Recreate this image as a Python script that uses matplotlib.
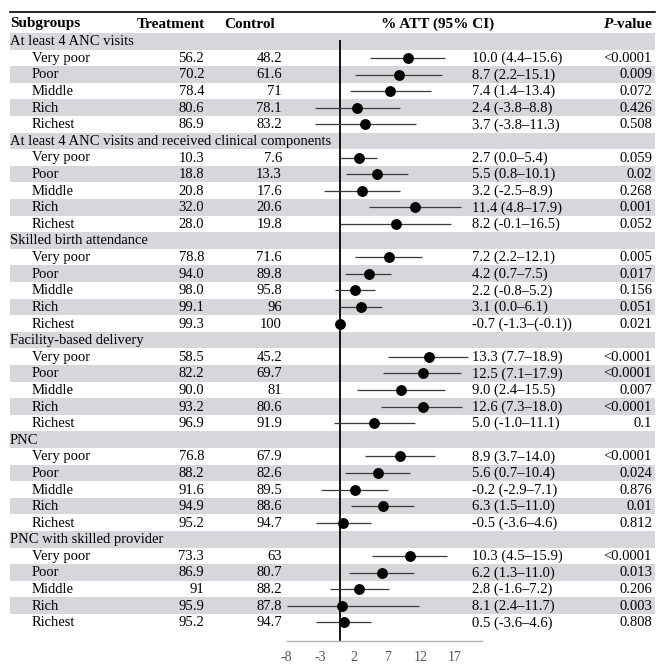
import matplotlib
matplotlib.use("Agg")
import matplotlib.pyplot as plt

plt.rcParams['font.family'] = ['Liberation Serif', 'DejaVu Serif']
plt.rcParams['axes.unicode_minus'] = False

# --- data -------------------------------------------------------------
groups = ["At least 4 ANC visits",
          "At least 4 ANC visits and received clinical components",
          "Skilled birth attendance",
          "Facility-based delivery",
          "PNC",
          "PNC with skilled provider"]
quintiles = ["Very poor", "Poor", "Middle", "Rich", "Richest"]

treatment = [["56.2", "70.2", "78.4", "80.6", "86.9"],
             ["10.3", "18.8", "20.8", "32.0", "28.0"],
             ["78.8", "94.0", "98.0", "99.1", "99.3"],
             ["58.5", "82.2", "90.0", "93.2", "96.9"],
             ["76.8", "88.2", "91.6", "94.9", "95.2"],
             ["73.3", "86.9", "91", "95.9", "95.2"]]
control = [["48.2", "61.6", "71", "78.1", "83.2"],
           ["7.6", "13.3", "17.6", "20.6", "19.8"],
           ["71.6", "89.8", "95.8", "96", "100"],
           ["45.2", "69.7", "81", "80.6", "91.9"],
           ["67.9", "82.6", "89.5", "88.6", "94.7"],
           ["63", "80.7", "88.2", "87.8", "94.7"]]
att_text = [["10.0 (4.4\u201315.6)", "8.7 (2.2\u201315.1)", "7.4 (1.4\u201313.4)", "2.4 (-3.8\u20138.8)", "3.7 (-3.8\u201311.3)"],
            ["2.7 (0.0\u20135.4)", "5.5 (0.8\u201310.1)", "3.2 (-2.5\u20138.9)", "11.4 (4.8\u201317.9)", "8.2 (-0.1\u201316.5)"],
            ["7.2 (2.2\u201312.1)", "4.2 (0.7\u20137.5)", "2.2 (-0.8\u20135.2)", "3.1 (0.0\u20136.1)", "-0.7 (-1.3\u2013(-0.1))"],
            ["13.3 (7.7\u201318.9)", "12.5 (7.1\u201317.9)", "9.0 (2.4\u201315.5)", "12.6 (7.3\u201318.0)", "5.0 (-1.0\u201311.1)"],
            ["8.9 (3.7\u201314.0)", "5.6 (0.7\u201310.4)", "-0.2 (-2.9\u20137.1)", "6.3 (1.5\u201311.0)", "-0.5 (-3.6\u20134.6)"],
            ["10.3 (4.5\u201315.9)", "6.2 (1.3\u201311.0)", "2.8 (-1.6\u20137.2)", "8.1 (2.4\u201311.7)", "0.5 (-3.6\u20134.6)"]]
pvals = [["<0.0001", "0.009", "0.072", "0.426", "0.508"],
         ["0.059", "0.02", "0.268", "0.001", "0.052"],
         ["0.005", "0.017", "0.156", "0.051", "0.021"],
         ["<0.0001", "<0.0001", "0.007", "<0.0001", "0.1"],
         ["<0.0001", "0.024", "0.876", "0.01", "0.812"],
         ["<0.0001", "0.013", "0.206", "0.003", "0.808"]]

# plotted estimates and CI as drawn in the forest panel
est = [[10.0, 8.7, 7.4, 2.4, 3.7],
       [2.7, 5.5, 3.2, 11.1, 8.2],
       [7.2, 4.2, 2.2, 3.1, 0.0],
       [13.1, 12.3, 9.0, 12.3, 5.0],
       [8.9, 5.6, 2.2, 6.3, 0.4],
       [10.3, 6.2, 2.8, 0.2, 0.5]]
lo = [[4.4, 2.2, 1.4, -3.8, -3.8],
      [0.0, 0.8, -2.5, 4.3, -0.1],
      [2.2, 0.7, -0.8, 0.0, -0.3],
      [7.1, 6.3, 2.5, 6.0, -1.0],
      [3.7, 0.7, -2.9, 1.5, -3.6],
      [4.7, 1.3, -1.6, -7.9, -3.6]]
hi = [[15.6, 15.1, 13.4, 8.8, 11.3],
      [5.4, 10.1, 8.9, 17.9, 16.5],
      [12.1, 7.5, 5.2, 6.1, 0.3],
      [18.9, 17.9, 15.5, 18.1, 11.1],
      [14.0, 10.4, 7.1, 11.0, 4.6],
      [15.9, 11.0, 7.2, 11.7, 4.6]]
xticks = [-8, -3, 2, 7, 12, 17]

# --- layout (pixels) --------------------------------------------------
W, H = 656, 664
top0 = 33.0      # top of first body row
rh = 16.6        # row height
axis_y = 641.0
gray = '#d5d7da'
fs = 10.5

fig = plt.figure(figsize=(W / 100, H / 100), dpi=100)
tab = fig.add_axes([0, 0, 1, 1])
tab.set_xlim(0, W)
tab.set_ylim(H, 0)
tab.axis('off')

# header
tab.plot([10, 655], [12, 12], color='black', lw=1.2)
hy = 24
tab.text(10, hy, "Subgroups", fontweight='bold', fontsize=11, va='center', ha='left')
tab.text(205, hy, "Treatment", fontweight='bold', fontsize=11, va='center', ha='right')
tab.text(224, hy, "Control", fontweight='bold', fontsize=11, va='center', ha='left')
tab.text(438, hy, "% ATT (95% CI)", fontweight='bold', fontsize=11, va='center', ha='center')
tv = tab.text(652, hy, "-value", fontweight='bold', fontsize=11, va='center', ha='right')
fig.canvas.draw()
bb = tv.get_window_extent(fig.canvas.get_renderer())
xp = tab.transData.inverted().transform((bb.x0, 0))[0]
tab.text(xp, hy, "P", fontweight='bold', fontstyle='italic', fontsize=11, va='center', ha='right')

# body rows, gray band on every other row
row = 0
for g, gname in enumerate(groups):
    yc = top0 + rh * (row + 0.5)
    if row % 2 == 0:
        tab.fill_between([10, 655], top0 + rh * row, top0 + rh * (row + 1), color=gray, lw=0, zorder=0)
    tab.text(10, yc + 0.5, gname, fontsize=fs, va='center', ha='left')
    row += 1
    for q, qname in enumerate(quintiles):
        yc = top0 + rh * (row + 0.5)
        if row % 2 == 0:
            tab.fill_between([10, 655], top0 + rh * row, top0 + rh * (row + 1), color=gray, lw=0, zorder=0)
        tab.text(32, yc + 0.5, qname, fontsize=fs, va='center', ha='left')
        tab.text(204, yc + 0.5, treatment[g][q], fontsize=fs, va='center', ha='right')
        tab.text(282, yc + 0.5, control[g][q], fontsize=fs, va='center', ha='right')
        tab.text(472.5, yc + 0.5, att_text[g][q], fontsize=fs, va='center', ha='left')
        tab.text(652, yc + 0.5, pvals[g][q], fontsize=fs, va='center', ha='right')
        row += 1

# --- forest panel -----------------------------------------------------
x0, x1 = 286.7, 481.7
fa = fig.add_axes([x0 / W, 1 - axis_y / H, (x1 - x0) / W, (axis_y - top0) / H])
fa.patch.set_alpha(0)
nrows = (axis_y - top0) / rh
fa.set_xlim(-8, 21)
fa.set_ylim(nrows, 0)
for s in ['top', 'left', 'right']:
    fa.spines[s].set_visible(False)
fa.spines['bottom'].set_color('#b0b0b0')
fa.spines['bottom'].set_linewidth(1.0)
fa.set_yticks([])
fa.set_xticks(xticks)
fa.tick_params(axis='x', length=0, pad=7, labelsize=10, labelcolor='#555555')

fa.vlines(0, 0.42, nrows, color='black', lw=1.3, zorder=2)
row = 0
for g in range(len(groups)):
    row += 1
    for q in range(len(quintiles)):
        yc = row + 0.5
        fa.hlines(yc, lo[g][q], hi[g][q], color='#3a3a3a', lw=0.9, zorder=3)
        fa.plot(est[g][q], yc, 'o', color='black', ms=6.8, zorder=4)
        row += 1

fig.savefig("out.png", dpi=100)
